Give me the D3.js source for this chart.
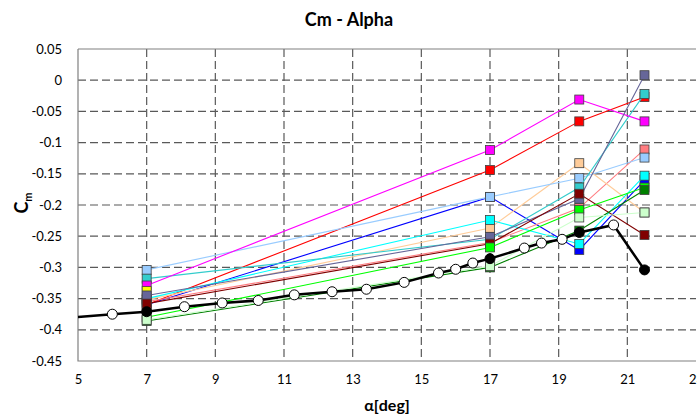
<!DOCTYPE html>
<html>
<head>
<meta charset="utf-8">
<script src="https://cdn.jsdelivr.net/npm/d3@7"></script>
<style>
  html, body { margin: 0; padding: 0; background: #fff; }
  svg { display: block; font-family: Lato, "Open Sans", "Liberation Sans", sans-serif; }
</style>
</head>
<body>
<svg id="chart" width="697" height="418"></svg>
<script>
// Reference curve (open circles), thick black line
const alphaRef = [4.5, 6, 8.1, 9.2, 10.25, 11.3, 12.4, 13.4, 14.5, 15.5, 16, 16.5, 18, 18.5, 19.1, 20.6];
const cmRef    = [-0.382, -0.375, -0.363, -0.357, -0.353, -0.344, -0.339, -0.335, -0.324, -0.309, -0.303, -0.293, -0.269, -0.261, -0.255, -0.232];

// Angles of the configuration sweep
const alphaSweep = [7, 17, 19.6, 21.5];
// Baseline configuration (filled black circles)
const cmBlack = [-0.371, -0.286, -0.244, -0.304];

// Sweep configurations, in drawing order (square markers); null = not measured
const seriesNames  = ["blue", "red", "salmon", "peach", "cyan", "lightblue", "teal", "magenta", "yellow", "slate", "darkred", "green", "darkgreen", "lightgreen"];
const seriesColors = ["#0000FF", "#FF0000", "#FF7C80", "#FFCC99", "#00FFFF", "#99CCFF", "#33CCCC", "#FF00FF", "#FFFF00", "#666699", "#800000", "#00FF00", "#008000", "#CCFFCC"];
const cmBlue       = [-0.360, -0.187, -0.272, -0.160];
const cmRed        = [-0.360, -0.144, -0.066, -0.027];
const cmSalmon     = [-0.355, -0.260, -0.205, -0.111];
const cmPeach      = [-0.352, -0.237, -0.133, -0.212];
const cmCyan       = [-0.350, -0.224, -0.2625, -0.153];
const cmLightBlue  = [-0.304, -0.187, -0.157, -0.124];
const cmTeal       = [-0.318, -0.255, -0.172, -0.022];
const cmMagenta    = [-0.329, -0.112, -0.031, -0.066];
const cmYellow     = [-0.338, null, null, null];
const cmSlate      = [-0.345, -0.251, -0.190, 0.008];
const cmDarkRed    = [-0.358, -0.262, -0.182, -0.248];
const cmGreen      = [-0.380, -0.268, -0.208, -0.172];
const cmDarkGreen  = [-0.386, -0.300, -0.241, -0.176];
const cmLightGreen = [-0.384, -0.298, -0.220, -0.212];
const seriesValues = [cmBlue, cmRed, cmSalmon, cmPeach, cmCyan, cmLightBlue, cmTeal, cmMagenta, cmYellow, cmSlate, cmDarkRed, cmGreen, cmDarkGreen, cmLightGreen];

// Axis ticks
const xTicks = [5, 7, 9, 11, 13, 15, 17, 19, 21, 23];
const yTicks = [0.05, 0, -0.05, -0.1, -0.15, -0.2, -0.25, -0.3, -0.35, -0.4, -0.45];

const svg = d3.select("#chart");
const plotLeft = 78, plotRight = 696, plotTop = 49, plotBottom = 361;

const x = d3.scaleLinear().domain([5, 23]).range([plotLeft, plotRight]);
const y = d3.scaleLinear().domain([-0.45, 0.05]).range([plotBottom, plotTop]);

svg.append("defs").append("clipPath").attr("id", "plotClip")
  .append("rect").attr("x", plotLeft).attr("y", plotTop - 8)
  .attr("width", plotRight - plotLeft + 10).attr("height", plotBottom - plotTop + 16);

// Title
svg.append("text")
  .attr("x", 349).attr("y", 26)
  .attr("text-anchor", "middle")
  .attr("font-size", 18).attr("font-weight", "bold").attr("fill", "#000")
  .text("Cm - Alpha");

// Gridlines
const grid = svg.append("g");
grid.selectAll("line.v").data(xTicks.filter(d => d > 5 && d < 23)).join("line")
  .attr("class", "v")
  .attr("x1", d => x(d)).attr("x2", d => x(d))
  .attr("y1", plotTop).attr("y2", plotBottom)
  .attr("stroke", "#595959").attr("stroke-width", 1.2).attr("stroke-dasharray", "8,4");
grid.selectAll("line.h").data(yTicks.filter(d => d < 0.04 && d > -0.44)).join("line")
  .attr("class", "h")
  .attr("x1", plotLeft).attr("x2", plotRight)
  .attr("y1", d => y(d)).attr("y2", d => y(d))
  .attr("stroke", "#595959").attr("stroke-width", 1.2).attr("stroke-dasharray", "8,4");

// Plot border
svg.append("path")
  .attr("d", `M${plotLeft},${plotTop}H${plotRight}M${plotLeft},${plotTop}V${plotBottom}H${plotRight}`)
  .attr("fill", "none").attr("stroke", "#808080").attr("stroke-width", 1.2);

// Axes (labels only)
const xAxis = d3.axisBottom(x).tickValues(xTicks).tickSize(0).tickPadding(14).tickFormat(d3.format("d"));
const gx = svg.append("g").attr("transform", `translate(0,${plotBottom})`).call(xAxis);
gx.select(".domain").remove();
gx.selectAll("text").attr("font-size", 13).attr("fill", "#000").attr("font-family", "Lato, 'Open Sans', sans-serif");

const yAxis = d3.axisLeft(y).tickValues(yTicks).tickSize(0).tickPadding(16).tickFormat(d => String(+d.toFixed(2)));
const gy = svg.append("g").attr("transform", `translate(${plotLeft},0)`).call(yAxis);
gy.select(".domain").remove();
gy.selectAll("text").attr("font-size", 13).attr("fill", "#000").attr("font-family", "Lato, 'Open Sans', sans-serif");

// Axis titles
svg.append("text")
  .attr("x", 387).attr("y", 411)
  .attr("text-anchor", "middle")
  .attr("font-size", 16).attr("font-weight", "bold")
  .text("α[deg]");

const yLab = svg.append("text")
  .attr("transform", "translate(28,203) rotate(-90)")
  .attr("text-anchor", "middle")
  .attr("font-size", 18).attr("font-weight", "bold");
yLab.append("tspan").text("C");
yLab.append("tspan").attr("font-size", 11).attr("dy", 4).text("m");

// Data layer
const plot = svg.append("g").attr("clip-path", "url(#plotClip)");
const line = d3.line().defined(d => d[1] != null).x(d => x(d[0])).y(d => y(d[1]));
const sq = 9;

seriesValues.forEach((vals, i) => {
  const pts = alphaSweep.map((a, j) => [a, vals[j]]);
  const g = plot.append("g").attr("class", "series-" + seriesNames[i]);
  g.append("path").datum(pts)
    .attr("d", line).attr("fill", "none")
    .attr("stroke", seriesColors[i]).attr("stroke-width", 1.1);
  g.selectAll("rect").data(pts.filter(d => d[1] != null)).join("rect")
    .attr("x", d => x(d[0]) - sq / 2).attr("y", d => y(d[1]) - sq / 2)
    .attr("width", sq).attr("height", sq)
    .attr("fill", seriesColors[i])
    .attr("stroke", "#404040").attr("stroke-width", 0.8);
});

// Reference curve through all points, baseline markers on top
const refPts = alphaRef.map((a, j) => [a, cmRef[j]]);
const blackPts = alphaSweep.map((a, j) => [a, cmBlack[j]]);
const allPts = refPts.concat(blackPts).sort((a, b) => a[0] - b[0]);

plot.append("path").datum(allPts)
  .attr("d", line).attr("fill", "none")
  .attr("stroke", "#000").attr("stroke-width", 2.5);

plot.selectAll("circle.ref").data(refPts).join("circle")
  .attr("class", "ref")
  .attr("cx", d => x(d[0])).attr("cy", d => y(d[1])).attr("r", 5)
  .attr("fill", "#fff").attr("stroke", "#000").attr("stroke-width", 1);

plot.selectAll("circle.base").data(blackPts).join("circle")
  .attr("class", "base")
  .attr("cx", d => x(d[0])).attr("cy", d => y(d[1])).attr("r", 5)
  .attr("fill", "#000").attr("stroke", "#000").attr("stroke-width", 1);
</script>
</body>
</html>
